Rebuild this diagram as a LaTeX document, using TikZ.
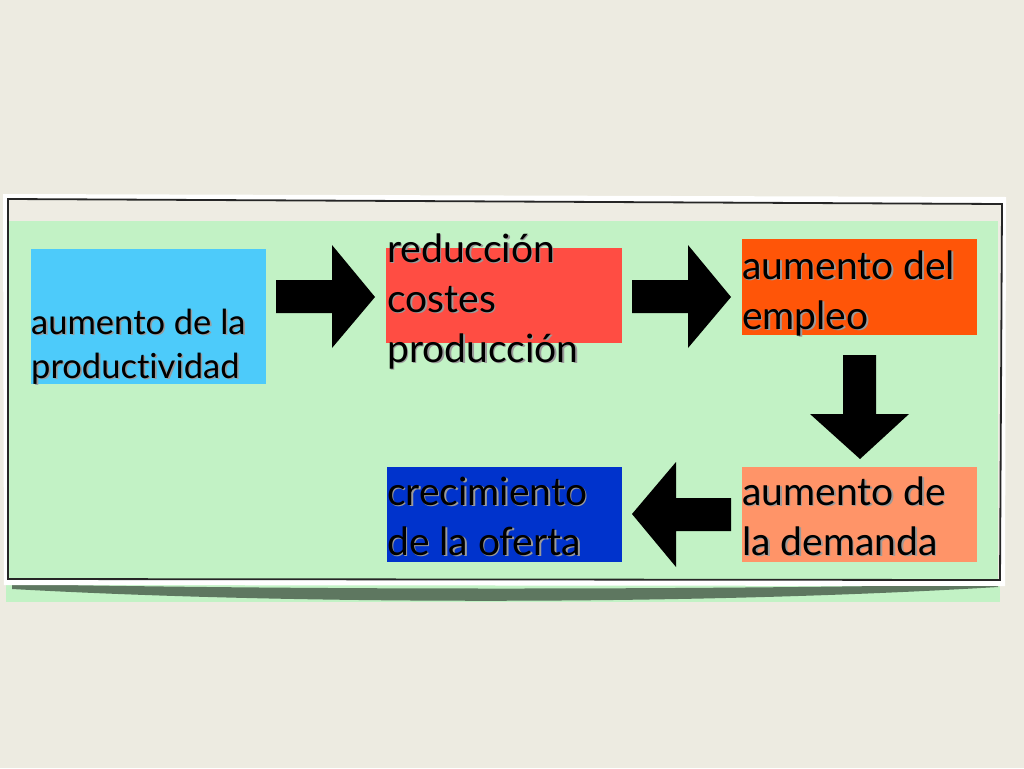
\documentclass[tikz,border=0pt]{standalone}
\usepackage{fontspec}
\setmainfont[Ligatures=NoCommon]{Lato}
\definecolor{bgbeige}{HTML}{EDEBE1}
\definecolor{bandbeige}{HTML}{EEECE3}
\definecolor{panelgreen}{HTML}{C2F2C5}
\definecolor{shadowgreen}{HTML}{5E7760}
\definecolor{cblue}{HTML}{4DCBFA}
\definecolor{cred}{HTML}{FF4D43}
\definecolor{corange}{HTML}{FF5508}
\definecolor{csalmon}{HTML}{FF9468}
\definecolor{cdarkblue}{HTML}{0033CC}
\definecolor{txtshadow}{HTML}{9A9A9A}
\newcommand\shd[1]{\rlap{\kern1.6pt\raisebox{-1.6pt}{\textcolor{txtshadow}{#1}}}#1}
\tikzset{
  box/.style={rectangle, draw=none, inner sep=0pt, anchor=north west},
  bigtext/.style={inner sep=0pt, anchor=base west, font=\fontsize{39}{50}\selectfont},
  smalltext/.style={inner sep=0pt, anchor=base west, font=\fontsize{34.5}{44}\selectfont},
  blockarrow/.style={fill=black, draw=none}
}
\begin{document}
\begin{tikzpicture}[x=1pt,y=-1pt]
\useasboundingbox (0,0) rectangle (1024,768);
\fill[bgbeige] (0,0) rectangle (1024,768);
% green panel extending below frame
\fill[panelgreen] (6,221) rectangle (1000,602);
% shadow under frame
\fill[shadowgreen] (12,584) .. controls (300,590) and (700,590) .. (998,584) -- (998,587)
  .. controls (700,605) and (300,605) .. (12,589) -- cycle;
% white frame border
\fill[white] (3,194) -- (1006,197) -- (1005,586) -- (4,585) -- cycle;
\fill[bandbeige] (8,199) -- (1002,204) -- (1000,580) -- (8,579) -- cycle;
\fill[panelgreen] (9,221) rectangle (998,579);
\draw[black!85, line width=1.8pt] (8,199) -- (1002,204) -- (1000,580) -- (8,579) -- cycle;

% boxes
\node[box, fill=cblue, minimum width=235pt, minimum height=135pt] (b1) at (31,249) {};
\node[box, fill=cred, minimum width=236pt, minimum height=95pt] (b2) at (386,248) {};
\node[box, fill=corange, minimum width=235pt, minimum height=96pt] (b3) at (742,239) {};
\node[box, fill=csalmon, minimum width=235pt, minimum height=95pt] (b4) at (742,467) {};
\node[box, fill=cdarkblue, minimum width=235pt, minimum height=95pt] (b5) at (387,467) {};

% texts
\node[smalltext] (t1) at (31,334) {\begin{tabular}[t]{@{}l@{}}\shd{aumento de la}\\\shd{productividad}\end{tabular}};
\node[bigtext] (t2) at (387,262) {\begin{tabular}[t]{@{}l@{}}\shd{reducción}\\\shd{costes}\\\shd{producción}\end{tabular}};
\node[bigtext] (t3) at (742,279) {\begin{tabular}[t]{@{}l@{}}\shd{aumento del}\\\shd{empleo}\end{tabular}};
\node[bigtext] (t4) at (742,505) {\begin{tabular}[t]{@{}l@{}}\shd{aumento de}\\\shd{la demanda}\end{tabular}};
\node[bigtext] (t5) at (387,505) {\begin{tabular}[t]{@{}l@{}}\shd{crecimiento}\\\shd{de la oferta}\end{tabular}};

% block arrows
\fill[blockarrow] (276,280) -- (332,280) -- (332,245) -- (375,297) -- (332,348) -- (332,313) -- (276,313) -- cycle;
\fill[blockarrow] (632,280) -- (688,280) -- (688,245) -- (731,297) -- (688,348) -- (688,313) -- (632,313) -- cycle;
\fill[blockarrow] (843,355) -- (876,355) -- (876,414) -- (909,414) -- (860,459) -- (810,414) -- (843,414) -- cycle;
\fill[blockarrow] (731,498) -- (676,498) -- (676,462) -- (632,514) -- (676,567) -- (676,531) -- (731,531) -- cycle;
\end{tikzpicture}
\end{document}
